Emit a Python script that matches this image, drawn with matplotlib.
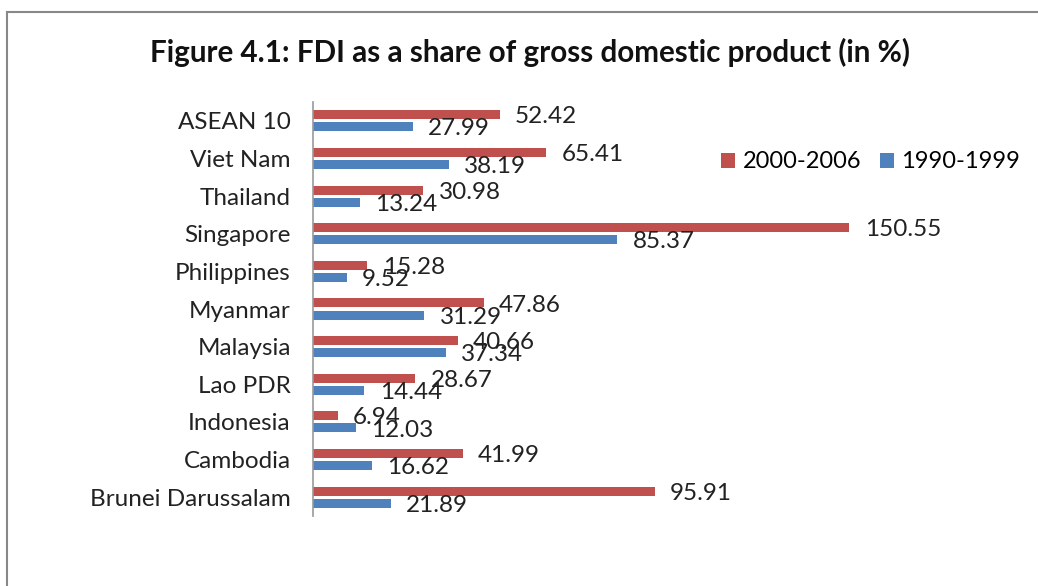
import matplotlib
matplotlib.use('Agg')
import matplotlib.pyplot as plt
from matplotlib.lines import Line2D
import numpy as np

# data, bottom to top as in the chart
countries = ['Brunei Darussalam', 'Cambodia', 'Indonesia', 'Lao PDR', 'Malaysia',
             'Myanmar', 'Philippines', 'Singapore', 'Thailand', 'Viet Nam', 'ASEAN 10']
fdi_2000_2006 = [95.91, 41.99, 6.94, 28.67, 40.66, 47.86, 15.28, 150.55, 30.98, 65.41, 52.42]
fdi_1990_1999 = [21.89, 16.62, 12.03, 14.44, 37.34, 31.29, 9.52, 85.37, 13.24, 38.19, 27.99]

red = '#C0504D'
blue = '#4F81BD'
plt.rcParams['font.family'] = ['Lato', 'DejaVu Sans']

fig = plt.figure(figsize=(10.38, 5.86), dpi=100)
ax = fig.add_axes([313 / 1038, 70 / 586, 570 / 1038, 414 / 586])

y = np.arange(len(countries))
h = 0.24
off = 0.16
ax.barh(y + off, fdi_2000_2006, height=h, color=red, label='2000-2006')
ax.barh(y - off, fdi_1990_1999, height=h, color=blue, label='1990-1999')

# value labels
for yi, v in zip(y, fdi_2000_2006):
    ax.annotate('%.2f' % v, (v, yi + off), xytext=(11, -1.5), textcoords='offset points',
                va='center', ha='left', fontsize=17.5, color='#222222')
for yi, v in zip(y, fdi_1990_1999):
    ax.annotate('%.2f' % v, (v, yi - off), xytext=(11, -1.5), textcoords='offset points',
                va='center', ha='left', fontsize=17.5, color='#222222')

ax.set_xlim(0, 160)
ax.set_ylim(-0.5, len(countries) - 0.5)
ax.set_yticks(y)
ax.set_yticklabels(countries, fontsize=17.5, color='#222222')
ax.tick_params(axis='y', length=0, pad=16)
ax.set_xticks([])
for s in ['top', 'right', 'bottom']:
    ax.spines[s].set_visible(False)
ax.spines['left'].set_color('#999999')
ax.spines['left'].set_linewidth(1.2)

# legend
hs, ls = ax.get_legend_handles_labels()
fig.legend(hs, ls, loc='center left', bbox_to_anchor=(700 / 1038, 1 - 162 / 586),
           ncol=2, frameon=False, fontsize=17, handlelength=0.6, handleheight=0.6,
           handletextpad=0.3, columnspacing=0.8)

fig.text(530 / 1038, 1 - 52 / 586, 'Figure 4.1: FDI as a share of gross domestic product (in %)',
         ha='center', va='center', fontsize=21.3, fontweight='bold', color='#111111')

# outer chart frame (left and top only visible)
fig.add_artist(Line2D([7 / 1038, 7 / 1038], [0, 1 - 12 / 586], transform=fig.transFigure,
                      color='#888888', lw=1.5))
fig.add_artist(Line2D([7 / 1038, 1], [1 - 12 / 586, 1 - 12 / 586], transform=fig.transFigure,
                      color='#888888', lw=1.5))

fig.savefig('out.png', dpi=100)
